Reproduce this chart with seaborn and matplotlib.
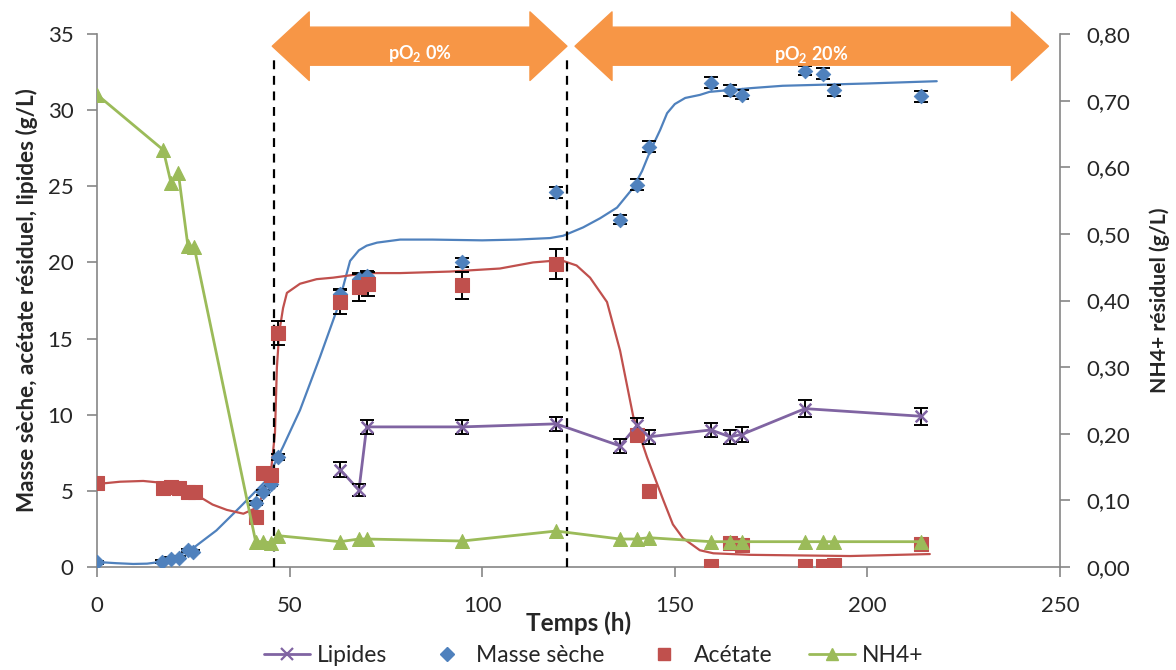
import numpy as np
import pandas as pd
import matplotlib
matplotlib.use("Agg")
import matplotlib.pyplot as plt
import seaborn as sns
from matplotlib.lines import Line2D
from matplotlib.patches import Polygon
from matplotlib.ticker import FuncFormatter

# ---------------- data ----------------
ms_t = [0, 16.9, 19.2, 21.3, 23.6, 25.0, 41.3, 43.1, 45.2, 47.0, 63.1, 68.1, 70.0,
        94.8, 119.2, 135.8, 140.2, 143.3, 159.4, 164.3, 167.4, 183.8, 188.5, 191.3, 213.9]
ms_v = [0.30, 0.33, 0.55, 0.60, 1.10, 1.00, 4.20, 4.90, 5.45, 7.20, 17.9, 18.9, 19.1,
        20.0, 24.6, 22.8, 25.1, 27.6, 31.8, 31.3, 31.0, 32.6, 32.4, 31.3, 30.9]
ms_err = [0.1, 0.1, 0.1, 0.1, 0.1, 0.1, 0.15, 0.15, 0.15, 0.2, 0.35, 0.35, 0.35,
          0.3, 0.35, 0.3, 0.35, 0.35, 0.35, 0.35, 0.3, 0.3, 0.35, 0.35, 0.35]

# trend curve for dry mass
ms_fit_t = [0, 5, 9.4, 13, 16.4, 20, 25, 31, 37, 44, 48.3, 52.7, 57.9, 62.3, 64.0, 65.7,
            68, 70, 72.7, 78.7, 87, 100, 109, 117.6, 121, 126.2, 130.6, 135, 139.2,
            141.5, 143.6, 146.2, 148, 150, 152.7, 156.5, 159, 170, 178, 200, 218]
ms_fit_v = [0.33, 0.25, 0.2, 0.22, 0.33, 0.6, 1.25, 2.4, 3.9, 5.7, 7.9, 10.3, 13.8, 16.9, 18.5, 20.1,
            20.8, 21.1, 21.3, 21.5, 21.5, 21.45, 21.5, 21.6, 21.75, 22.3, 22.9, 23.6, 24.9,
            26.0, 27.3, 28.7, 29.8, 30.4, 30.8, 31.0, 31.2, 31.45, 31.6, 31.75, 31.9]

ac_t = [0, 17.2, 19.2, 21.3, 23.7, 25.4, 41.2, 43.2, 45.2, 47.0, 63.1, 68.1, 70.3,
        94.8, 119.2, 140.2, 143.3, 159.4, 164.3, 167.4, 183.8, 188.5, 191.3, 213.9]
ac_v = [5.5, 5.2, 5.25, 5.2, 4.9, 4.9, 3.3, 6.2, 6.05, 15.35, 17.4, 18.4, 18.6,
        18.5, 19.9, 8.7, 5.0, 0.07, 1.55, 1.45, 0.05, 0.05, 0.1, 1.5]
ac_err = [0, 0, 0, 0, 0, 0, 0, 0, 0, 0.8, 0.8, 0.9, 0.8,
          0.9, 1.0, 0, 0, 0, 0, 0, 0, 0, 0, 0]

# trend curve for acetate
ac_fit_t = [0, 6, 12, 18, 22, 26.7, 30, 33.7, 38, 41.5, 43.5, 45.3, 46.2, 46.7, 47.3, 48.3,
            49.3, 52.7, 57, 61.3, 70, 78.7, 91.6, 104.6, 113.2, 118, 121, 124.5, 128,
            132.4, 135.8, 139.2, 142.8, 147, 149.5, 152.1, 156.5, 160, 169.5, 195.5, 216.2]
ac_fit_v = [5.45, 5.6, 5.65, 5.5, 5.2, 4.6, 4.1, 3.75, 3.5, 3.9, 5.0, 6.6, 8.8, 13.1, 15.4, 17.0,
            18.0, 18.6, 18.9, 19.0, 19.3, 19.3, 19.4, 19.6, 20.0, 20.1, 20.1, 19.8, 19.0,
            17.4, 14.2, 9.9, 7.2, 4.4, 2.8, 1.9, 1.1, 0.9, 0.8, 0.72, 0.85]

li_t = [63.1, 68.0, 70.0, 94.8, 119.2, 135.8, 140.2, 143.3, 159.4, 164.3, 167.4, 183.8, 213.9]
li_v = [6.4, 5.05, 9.2, 9.2, 9.4, 7.95, 9.3, 8.55, 9.0, 8.55, 8.7, 10.4, 9.9]
li_err = [0.5, 0.4, 0.45, 0.45, 0.45, 0.45, 0.5, 0.45, 0.45, 0.45, 0.5, 0.55, 0.55]

nh_t = [0, 17.2, 19.2, 21.1, 23.6, 25.2, 41.2, 43.2, 45.2, 47.0, 63.1, 68.0, 70.0,
        94.8, 119.2, 135.8, 140.2, 143.3, 159.4, 164.3, 167.4, 183.8, 188.5, 191.3, 213.9]
nh_v = [0.709, 0.626, 0.577, 0.592, 0.482, 0.481, 0.038, 0.038, 0.036, 0.047, 0.038, 0.042, 0.042,
        0.039, 0.054, 0.042, 0.042, 0.044, 0.038, 0.038, 0.038, 0.038, 0.038, 0.038, 0.038]

x_ticks = [0, 50, 100, 150, 200, 250]
y_ticks = [0, 5, 10, 15, 20, 25, 30, 35]
y2_ticks = [0.0, 0.1, 0.2, 0.3, 0.4, 0.5, 0.6, 0.7, 0.8]

phase_bounds = [46, 122]
phase_labels = [r"pO$_\mathbf{2}$ 0%", r"pO$_\mathbf{2}$ 20%"]

# ---------------- style ----------------
sns.set_theme(style="white")
plt.rcParams["font.family"] = ["Lato", "DejaVu Sans"]
plt.rcParams["mathtext.fontset"] = "custom"
plt.rcParams["mathtext.rm"] = "Lato"
plt.rcParams["mathtext.bf"] = "Lato:bold"

PURPLE = "#8064A2"
BLUE = "#4F81BD"
RED = "#C0504D"
GREEN = "#9BBB59"
ORANGE = "#F79646"
GRAY = "#868686"

fig = plt.figure(figsize=(11.76, 6.70), dpi=100)
ax = fig.add_axes([97 / 1176, 1 - 567 / 670, 963 / 1176, 533 / 670])
ax2 = ax.twinx()

# trend curves
sns.lineplot(x=ms_fit_t, y=ms_fit_v, ax=ax, color=BLUE, lw=1.6, estimator=None, sort=False, zorder=2)
sns.lineplot(x=ac_fit_t, y=ac_fit_v, ax=ax, color=RED, lw=1.6, estimator=None, sort=False, zorder=2)

# lipids line + markers
sns.lineplot(x=li_t, y=li_v, ax=ax, color=PURPLE, lw=2.0, estimator=None, sort=False, zorder=3)
ax.errorbar(li_t, li_v, yerr=li_err, fmt="none", ecolor="black", elinewidth=1.4,
            capsize=5, capthick=1.4, zorder=5)
sns.scatterplot(x=li_t, y=li_v, ax=ax, marker="x", s=70, color=PURPLE, linewidth=1.8, zorder=6)

# dry mass
ax.errorbar(ms_t, ms_v, yerr=ms_err, fmt="none", ecolor="black", elinewidth=1.4,
            capsize=5, capthick=1.4, zorder=4)
sns.scatterplot(x=ms_t, y=ms_v, ax=ax, marker="D", s=55, color=BLUE, edgecolor=BLUE, zorder=5)

# acetate
ac_t_e = [t for t, e in zip(ac_t, ac_err) if e > 0]
ac_v_e = [v for v, e in zip(ac_v, ac_err) if e > 0]
ac_err_e = [e for e in ac_err if e > 0]
ax.errorbar(ac_t_e, ac_v_e, yerr=ac_err_e, fmt="none", ecolor="black", elinewidth=1.4,
            capsize=5, capthick=1.4, zorder=4)
sns.scatterplot(x=ac_t, y=ac_v, ax=ax, marker="s", s=95, color=RED, edgecolor=RED, zorder=5)

# NH4+ on right axis
sns.lineplot(x=nh_t, y=nh_v, ax=ax2, color=GREEN, lw=2.0, estimator=None, sort=False, zorder=3)
sns.scatterplot(x=nh_t, y=nh_v, ax=ax2, marker="^", s=100, color=GREEN, edgecolor=GREEN, zorder=4)

# dashed phase lines
for xb in phase_bounds:
    ax.plot([xb, xb], [0, 33.5], ls=(0, (4, 3)), color="black", lw=1.6, zorder=3)

# orange double arrows
def double_arrow(x0, x1, yc=34.2, hh=2.25, sh=1.25, hl=9.6):
    pts = [(x0, yc), (x0 + hl, yc + hh), (x0 + hl, yc + sh), (x1 - hl, yc + sh),
           (x1 - hl, yc + hh), (x1, yc), (x1 - hl, yc - hh), (x1 - hl, yc - sh),
           (x0 + hl, yc - sh), (x0 + hl, yc - hh)]
    p = Polygon(pts, closed=True, facecolor=ORANGE, edgecolor=ORANGE, lw=1,
                joinstyle="round", clip_on=False, zorder=10)
    ax.add_patch(p)

double_arrow(45.5, 122.0)
double_arrow(124.1, 247.0)
ax.text(83.9, 33.75, phase_labels[0], color="white", fontsize=13, fontweight="bold",
        ha="center", va="center", zorder=11, clip_on=False)
ax.text(185.3, 33.65, phase_labels[1], color="white", fontsize=13, fontweight="bold",
        ha="center", va="center", zorder=11, clip_on=False)

# axes formatting
ax.set_xlim(0, 250)
ax.set_ylim(0, 35)
ax2.set_ylim(0, 0.8)
ax.set_xticks(x_ticks)
ax.set_yticks(y_ticks)
ax2.set_yticks(y2_ticks)
ax2.yaxis.set_major_formatter(FuncFormatter(lambda v, p: f"{v:.2f}".replace(".", ",")))

for s in ["top", "right"]:
    ax.spines[s].set_visible(False)
for s in ["top", "left", "bottom"]:
    ax2.spines[s].set_visible(False)
for s in ["left", "bottom"]:
    ax.spines[s].set_color(GRAY)
    ax.spines[s].set_linewidth(1.2)
ax2.spines["right"].set_color(GRAY)
ax2.spines["right"].set_linewidth(1.2)

ax.tick_params(axis="y", direction="out", length=7, width=1.2, color=GRAY,
               labelsize=16, pad=10, left=True)
ax.tick_params(axis="x", direction="out", length=7, width=1.2, color=GRAY,
               labelsize=16, pad=14, bottom=True)
ax2.tick_params(axis="y", direction="out", length=7, width=1.2, color=GRAY,
                labelsize=16, pad=12, right=True)
ax.grid(False)
ax2.grid(False)

ax.set_xlabel("Temps (h)", fontsize=17.5, fontweight="bold")
ax.xaxis.label.set_va("center")
ax.xaxis.set_label_coords(0.5, -0.105)
ax.set_ylabel("Masse sèche, acétate résiduel, lipides (g/L)", fontsize=16.2, fontweight="bold")
ax.yaxis.set_label_coords(-0.061, 0.5)
ax2.set_ylabel("NH4+ résiduel (g/L)", fontsize=15.2, fontweight="bold", rotation=90)
ax2.yaxis.set_label_coords(1.093, 0.5)

handles = [
    Line2D([0], [0], color=PURPLE, lw=2, marker="x", markersize=8, mew=1.6),
    Line2D([0], [0], color=BLUE, ls="None", marker="D", markersize=7),
    Line2D([0], [0], color=RED, ls="None", marker="s", markersize=9),
    Line2D([0], [0], color=GREEN, lw=2, marker="^", markersize=8),
]
labels = ["Lipides", "Masse sèche", "Acétate", "NH4+"]
fig.legend(handles, labels, loc="center", bbox_to_anchor=(0.505, 0.021), ncol=4,
           frameon=False, fontsize=16.5, columnspacing=1.6, handlelength=2.0,
           handletextpad=0.3, borderpad=0.1)

fig.savefig("out.png", dpi=100)
